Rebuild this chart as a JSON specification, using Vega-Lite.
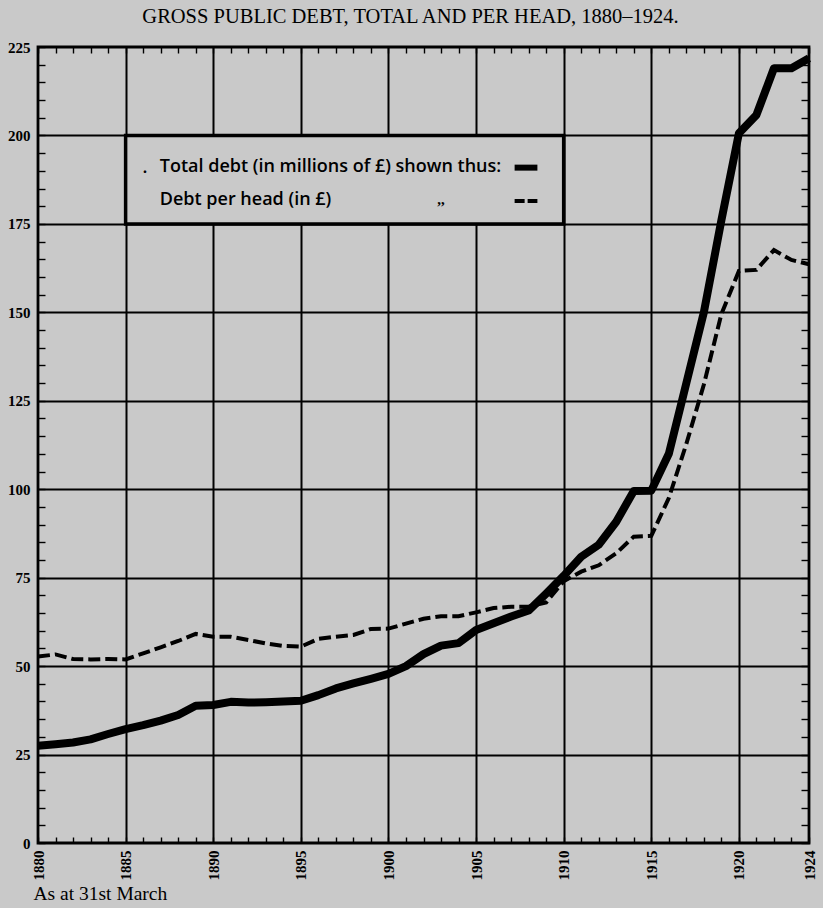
{
  "$schema": "https://vega.github.io/schema/vega-lite/v6.json",
  "width": 771,
  "height": 796,
  "autosize": {"type": "none"},
  "padding": {"left": 38, "top": 47, "right": 14, "bottom": 65},
  "background": "#c9c9c9",
  "config": {
    "view": {"stroke": "black", "strokeWidth": 2.8, "fill": "#c9c9c9"},
    "font": "Liberation Serif"
  },
  "title": {
    "text": "GROSS PUBLIC DEBT, TOTAL AND PER HEAD, 1880–1924.",
    "font": "Liberation Serif",
    "fontSize": 20.5,
    "fontWeight": "normal",
    "color": "black",
    "anchor": "middle",
    "dx": -13,
    "offset": 13
  },
  "data": {
    "values": [
      {"year": 1880, "total": 27.5, "perHead": 52.7},
      {"year": 1881, "total": 27.9, "perHead": 53.3},
      {"year": 1882, "total": 28.4, "perHead": 52.0},
      {"year": 1883, "total": 29.3, "perHead": 51.9},
      {"year": 1884, "total": 30.8, "perHead": 52.0},
      {"year": 1885, "total": 32.2, "perHead": 51.9},
      {"year": 1886, "total": 33.3, "perHead": 53.6},
      {"year": 1887, "total": 34.6, "perHead": 55.3},
      {"year": 1888, "total": 36.2, "perHead": 57.1},
      {"year": 1889, "total": 38.8, "perHead": 59.1},
      {"year": 1890, "total": 39.0, "perHead": 58.3},
      {"year": 1891, "total": 39.9, "perHead": 58.3},
      {"year": 1892, "total": 39.7, "perHead": 57.4},
      {"year": 1893, "total": 39.8, "perHead": 56.4},
      {"year": 1894, "total": 40.0, "perHead": 55.7},
      {"year": 1895, "total": 40.2, "perHead": 55.5},
      {"year": 1896, "total": 41.8, "perHead": 57.7},
      {"year": 1897, "total": 43.7, "perHead": 58.3},
      {"year": 1898, "total": 45.1, "perHead": 58.8},
      {"year": 1899, "total": 46.4, "perHead": 60.5},
      {"year": 1900, "total": 47.8, "perHead": 60.6},
      {"year": 1901, "total": 50.0, "perHead": 62.0},
      {"year": 1902, "total": 53.4, "perHead": 63.4},
      {"year": 1903, "total": 55.8, "perHead": 64.1},
      {"year": 1904, "total": 56.5, "perHead": 64.1},
      {"year": 1905, "total": 60.2, "perHead": 65.2},
      {"year": 1906, "total": 62.1, "perHead": 66.4},
      {"year": 1907, "total": 64.0, "perHead": 66.8},
      {"year": 1908, "total": 65.7, "perHead": 66.8},
      {"year": 1909, "total": 70.5, "perHead": 68.0},
      {"year": 1910, "total": 75.5, "perHead": 74.0},
      {"year": 1911, "total": 80.9, "perHead": 76.7},
      {"year": 1912, "total": 84.3, "perHead": 78.5},
      {"year": 1913, "total": 90.8, "perHead": 81.9},
      {"year": 1914, "total": 99.5, "perHead": 86.6},
      {"year": 1915, "total": 99.6, "perHead": 86.8},
      {"year": 1916, "total": 110.0, "perHead": 97.5},
      {"year": 1917, "total": 130.0, "perHead": 112.8},
      {"year": 1918, "total": 150.0, "perHead": 129.6},
      {"year": 1919, "total": 176.0, "perHead": 149.5},
      {"year": 1920, "total": 200.6, "perHead": 161.7},
      {"year": 1921, "total": 205.8, "perHead": 162.0},
      {"year": 1922, "total": 219.0, "perHead": 167.6},
      {"year": 1923, "total": 219.0, "perHead": 164.8},
      {"year": 1924, "total": 221.8, "perHead": 163.6}
    ]
  },
  "layer": [
    {
      "mark": {"type": "line", "color": "black", "strokeWidth": 8, "strokeJoin": "round", "strokeCap": "butt"},
      "encoding": {
        "x": {
          "field": "year", "type": "quantitative",
          "scale": {"domain": [1880, 1924], "nice": false, "zero": false},
          "axis": {
            "values": [1880,1881,1882,1883,1884,1885,1886,1887,1888,1889,1890,1891,1892,1893,1894,1895,1896,1897,1898,1899,1900,1901,1902,1903,1904,1905,1906,1907,1908,1909,1910,1911,1912,1913,1914,1915,1916,1917,1918,1919,1920,1921,1922,1923,1924],
            "format": "d",
            "labelExpr": "(datum.value % 5 === 0 || datum.value === 1924) ? datum.label : ''",
            "domain": false,
            "grid": true,
            "gridColor": "black",
            "gridWidth": 2,
            "gridOpacity": {"condition": {"test": "datum.value % 5 === 0 && datum.value > 1880", "value": 1}, "value": 0},
            "ticks": true,
            "tickSize": -6,
            "tickWidth": 1.4,
            "tickColor": "black",
            "labelAngle": -90,
            "labelFont": "Liberation Serif",
            "labelFontWeight": "bold",
            "labelFontSize": 15,
            "labelColor": "black",
            "labelPadding": 13,
            "labelOverlap": false,
            "labelFlush": false,
            "labelBound": false,
            "title": "As at 31st March",
            "titleFont": "Liberation Serif",
            "titleFontSize": 19.5,
            "titleFontWeight": "normal",
            "titleColor": "black",
            "titleAnchor": "start",
            "titleAlign": "left",
            "titleBaseline": "alphabetic",
            "titleX": -5,
            "titleY": 56
          }
        },
        "y": {
          "field": "total", "type": "quantitative",
          "scale": {"domain": [0, 225], "nice": false, "zero": true},
          "axis": {
            "values": [0,5,10,15,20,25,30,35,40,45,50,55,60,65,70,75,80,85,90,95,100,105,110,115,120,125,130,135,140,145,150,155,160,165,170,175,180,185,190,195,200,205,210,215,220,225],
            "labelExpr": "datum.value % 25 === 0 ? datum.label : ''",
            "domain": false,
            "grid": true,
            "gridColor": "black",
            "gridWidth": 2,
            "gridOpacity": {"condition": {"test": "datum.value % 25 === 0 && datum.value > 0 && datum.value < 225", "value": 1}, "value": 0},
            "ticks": true,
            "tickSize": -7,
            "tickWidth": 1.4,
            "tickColor": "black",
            "labelFont": "Liberation Serif",
            "labelFontWeight": "bold",
            "labelFontSize": 15,
            "labelColor": "black",
            "labelPadding": 15,
            "labelOverlap": false,
            "labelFlush": false,
            "labelBound": false,
            "title": null
          }
        }
      }
    },
    {
      "mark": {"type": "line", "color": "black", "strokeWidth": 4, "strokeDash": [12, 5], "strokeJoin": "miter", "strokeCap": "butt"},
      "encoding": {
        "x": {
          "field": "year", "type": "quantitative",
          "axis": {
            "orient": "top",
            "values": [1880,1881,1882,1883,1884,1885,1886,1887,1888,1889,1890,1891,1892,1893,1894,1895,1896,1897,1898,1899,1900,1901,1902,1903,1904,1905,1906,1907,1908,1909,1910,1911,1912,1913,1914,1915,1916,1917,1918,1919,1920,1921,1922,1923,1924],
            "labels": false,
            "domain": false,
            "grid": false,
            "ticks": true,
            "tickSize": -6,
            "tickWidth": 1.4,
            "tickColor": "black",
            "title": null
          }
        },
        "y": {
          "field": "perHead", "type": "quantitative",
          "axis": {
            "orient": "right",
            "values": [0,5,10,15,20,25,30,35,40,45,50,55,60,65,70,75,80,85,90,95,100,105,110,115,120,125,130,135,140,145,150,155,160,165,170,175,180,185,190,195,200,205,210,215,220,225],
            "labels": false,
            "domain": false,
            "grid": false,
            "ticks": true,
            "tickSize": -8,
            "tickWidth": 1.4,
            "tickColor": "black",
            "title": null
          }
        }
      }
    },
    {
      "data": {"values": [{}]},
      "mark": {"type": "rect", "fill": "#c9c9c9", "stroke": "black", "strokeWidth": 3.5},
      "encoding": {
        "x": {"datum": 1885, "type": "quantitative", "axis": null},
        "x2": {"datum": 1910},
        "y": {"datum": 175, "type": "quantitative", "axis": null},
        "y2": {"datum": 200}
      }
    },
    {
      "data": {"values": [{}]},
      "mark": {"type": "text", "text": "Total debt (in millions of £) shown thus:", "align": "left", "baseline": "alphabetic", "font": "Open Sans", "fontSize": 18, "fontWeight": 600, "color": "black"},
      "encoding": {
        "x": {"datum": 1886.95, "type": "quantitative", "axis": null},
        "y": {"datum": 189.6, "type": "quantitative", "axis": null}
      }
    },
    {
      "data": {"values": [{}]},
      "mark": {"type": "text", "text": "Debt per head (in £)", "align": "left", "baseline": "alphabetic", "font": "Open Sans", "fontSize": 18, "fontWeight": 600, "color": "black"},
      "encoding": {
        "x": {"datum": 1886.95, "type": "quantitative", "axis": null},
        "y": {"datum": 180.3, "type": "quantitative", "axis": null}
      }
    },
    {
      "data": {"values": [{}]},
      "mark": {"type": "text", "text": ",,", "align": "center", "baseline": "alphabetic", "font": "Liberation Serif", "fontSize": 15, "fontWeight": "bold", "color": "black"},
      "encoding": {
        "x": {"datum": 1903.0, "type": "quantitative", "axis": null},
        "y": {"datum": 180.6, "type": "quantitative", "axis": null}
      }
    },
    {
      "data": {"values": [{}]},
      "mark": {"type": "text", "text": ".", "align": "center", "baseline": "alphabetic", "font": "Open Sans", "fontSize": 18, "fontWeight": 600, "color": "black"},
      "encoding": {
        "x": {"datum": 1886.1, "type": "quantitative", "axis": null},
        "y": {"datum": 189.3, "type": "quantitative", "axis": null}
      }
    },
    {
      "data": {"values": [{}]},
      "mark": {"type": "rule", "color": "black", "strokeWidth": 6, "strokeCap": "butt"},
      "encoding": {
        "x": {"datum": 1907.2, "type": "quantitative", "axis": null},
        "x2": {"datum": 1908.5},
        "y": {"datum": 190.9, "type": "quantitative", "axis": null}
      }
    },
    {
      "data": {"values": [{}]},
      "mark": {"type": "rule", "color": "black", "strokeWidth": 4, "strokeDash": [10, 3], "strokeCap": "butt"},
      "encoding": {
        "x": {"datum": 1907.2, "type": "quantitative", "axis": null},
        "x2": {"datum": 1908.5},
        "y": {"datum": 181.5, "type": "quantitative", "axis": null}
      }
    }
  ],
  "resolve": {"axis": {"x": "independent", "y": "independent"}}
}
